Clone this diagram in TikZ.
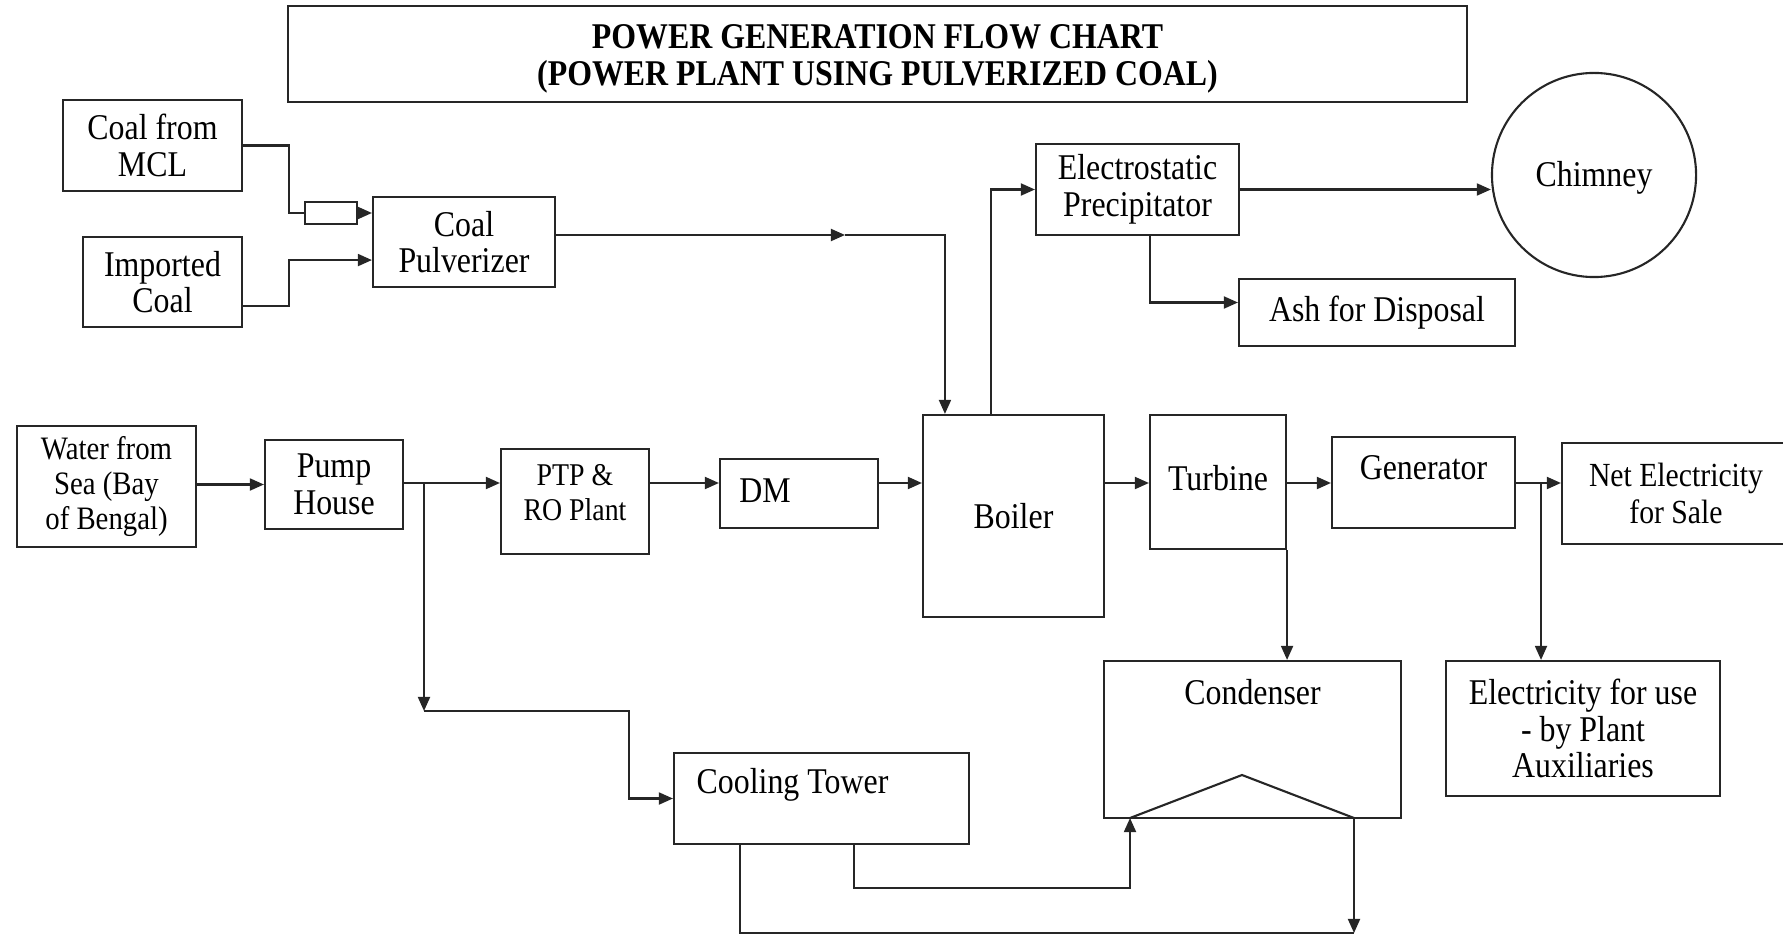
\documentclass[tikz,border=0pt]{standalone}
\usepackage{fontspec}
\setmainfont{Liberation Serif}[FakeStretch=0.88]
\usetikzlibrary{arrows.meta, positioning, calc}

\begin{document}
\begin{tikzpicture}[
    x=0.01cm, y=-0.01cm,
    box/.style={
        rectangle,
        draw=black!85,
        line width=0.6pt,
        inner sep=0pt,
        align=center,
        font=\fontsize{10.3}{10.4}\selectfont
    },
    smallbox/.style={
        box,
        font=\fontsize{9.3}{10}\selectfont
    },
    boxsize/.style 2 args={
        minimum width={#1*0.01cm},
        minimum height={#2*0.01cm}
    },
    lbl/.style={
        anchor=center,
        inner sep=0pt,
        align=center,
        font=\fontsize{10.3}{10.4}\selectfont
    },
    arrow/.style={
        -{Triangle[length=4pt, width=3.4pt]},
        line width=0.6pt,
        draw=black!85
    },
    line/.style={
        line width=0.6pt,
        draw=black!85
    }
]
    \useasboundingbox (0,0) rectangle (1783,937);

    % --- TITLE ---
    \node[box, boxsize={1179}{96}, label={[lbl, font=\fontsize{10.3}{10.6}\selectfont\bfseries, yshift=-0.05cm]center:POWER GENERATION FLOW CHART\\(POWER PLANT USING PULVERIZED COAL)}] (title) at (877.5,54) {};

    % --- COAL LINE (TOP) ---
    \node[box, boxsize={179}{91}] (mcl) at (152.5,145.5) {Coal from\\MCL};
    \node[box, boxsize={159}{90}] (imported) at (162.5,282) {Imported\\Coal};
    \node[box, boxsize={52}{22}] (feeder) at (331,213) {};
    \node[box, boxsize={182}{90}] (pulverizer) at (464,242) {Coal\\Pulverizer};
    \node[box, boxsize={203}{91}] (esp) at (1137.5,189.5) {Electrostatic\\Precipitator};
    \node[box, circle, minimum size=2.04cm] (chimney) at (1594,175) {};
    \node[lbl] (chimney-lbl) at (1594,178) {Chimney};
    \node[box, boxsize={276}{67}] (ash) at (1377,312.5) {Ash for Disposal};

    % --- WATER / STEAM LINE (MIDDLE) ---
    \node[smallbox, boxsize={179}{121}] (water) at (106.5,486.5) {Water from\\Sea (Bay\\of Bengal)};
    \node[box, boxsize={138}{89}] (pump) at (334,484.5) {Pump\\House};
    \node[smallbox, boxsize={148}{105}, label={[lbl, font=\fontsize{9}{10}\selectfont, yshift=0.09cm]center:PTP \&\\RO Plant}] (ptp) at (575,501.5) {};
    \node[box, boxsize={158}{69}, label={[lbl, xshift=-0.34cm, yshift=0.03cm]center:DM}] (dm) at (799,493.5) {};
    \node[box, boxsize={181}{202}] (boiler) at (1013.5,516) {Boiler};
    \node[box, boxsize={136}{134}, label={[lbl, yshift=0.04cm]center:Turbine}] (turbine) at (1218,482) {};
    \node[box, boxsize={183}{91}, label={[lbl, yshift=0.15cm]center:Generator}] (generator) at (1423.5,482.5) {};
    \node[smallbox, boxsize={228}{101}, font=\fontsize{9.6}{10.4}\selectfont] (net) at (1676,493.5) {Net Electricity\\for Sale};

    % --- COOLING LINE (BOTTOM) ---
    \node[box, boxsize={297}{157}, label={[lbl, yshift=0.47cm]center:Condenser}] (condenser) at (1252.5,739.5) {};
    \node[box, boxsize={274}{135}] (elecuse) at (1583,728.5) {Electricity for use\\- by Plant\\Auxiliaries};
    \node[box, boxsize={295}{91}, label={[lbl, xshift=-0.29cm, yshift=0.14cm]center:Cooling Tower}] (cooling) at (821.5,798.5) {};

    % Coal feed
    \draw[line] (mcl.east) -- ++(46,0) |- (feeder.west);
    \draw[arrow] (feeder.east) -- (feeder.east -| pulverizer.west);
    \draw[arrow] ($(imported.south east)+(0,-22)$) -- ++(46,0) |- ($(pulverizer.south west)+(0,-28)$);

    \coordinate (pulvmid) at (845,235);
    \draw[arrow] (pulverizer.east |- pulvmid) -- (pulvmid);
    \draw[arrow] (pulvmid) -| ($(boiler.north west)+(23,0)$);

    % Flue gas
    \draw[arrow] ($(boiler.north west)+(69,0)$) |- (esp.west);
    \draw[arrow] (esp.east) -- (esp.east -| chimney.west);
    \draw[arrow] ($(esp.south west)+(115,0)$) |- ($(ash.west)+(0,-10)$);

    % Main line
    \coordinate (mainline) at (0,483);
    \draw[arrow] (pump.west -| water.east) -- (pump.west);
    \draw[arrow] (pump.east |- mainline) -- (ptp.west |- mainline);
    \draw[arrow] (ptp.east |- mainline) -- (dm.west |- mainline);
    \draw[arrow] (dm.east |- mainline) -- (boiler.west |- mainline);
    \draw[arrow] (boiler.east |- mainline) -- (turbine.west |- mainline);
    \draw[arrow] (turbine.east |- mainline) -- (generator.west |- mainline);
    \draw[arrow] (generator.east |- mainline) -- (net.west |- mainline);

    \coordinate (elecjoin) at (1541,483);
    \draw[arrow] (elecjoin) -- (elecjoin |- elecuse.north);

    % Cooling water branch
    \coordinate (pumpjoin) at (424,483);
    \coordinate (pumpturn) at (424,711);
    \draw[arrow] (pumpjoin) -- (pumpturn);
    \draw[arrow] (pumpturn) -- ++(205,0) |- (cooling.west);

    \draw[arrow] (turbine.south east) -- (turbine.south east |- condenser.north);

    % Condenser tube bundle
    \coordinate (trileft) at (1130,818);
    \coordinate (triapex) at (1242,775);
    \coordinate (triright) at (1354,818);
    \draw[line] (trileft) -- (triapex) -- (triright);

    % Cooling water return
    \coordinate (returncorner) at (1354,933);
    \draw[arrow] ($(cooling.south west)+(181,0)$) -- ++(0,43) -| (trileft);
    \draw[line] ($(cooling.south west)+(67,0)$) |- (returncorner);
    \draw[arrow] (triright) -- (returncorner);

\end{tikzpicture}
\end{document}
